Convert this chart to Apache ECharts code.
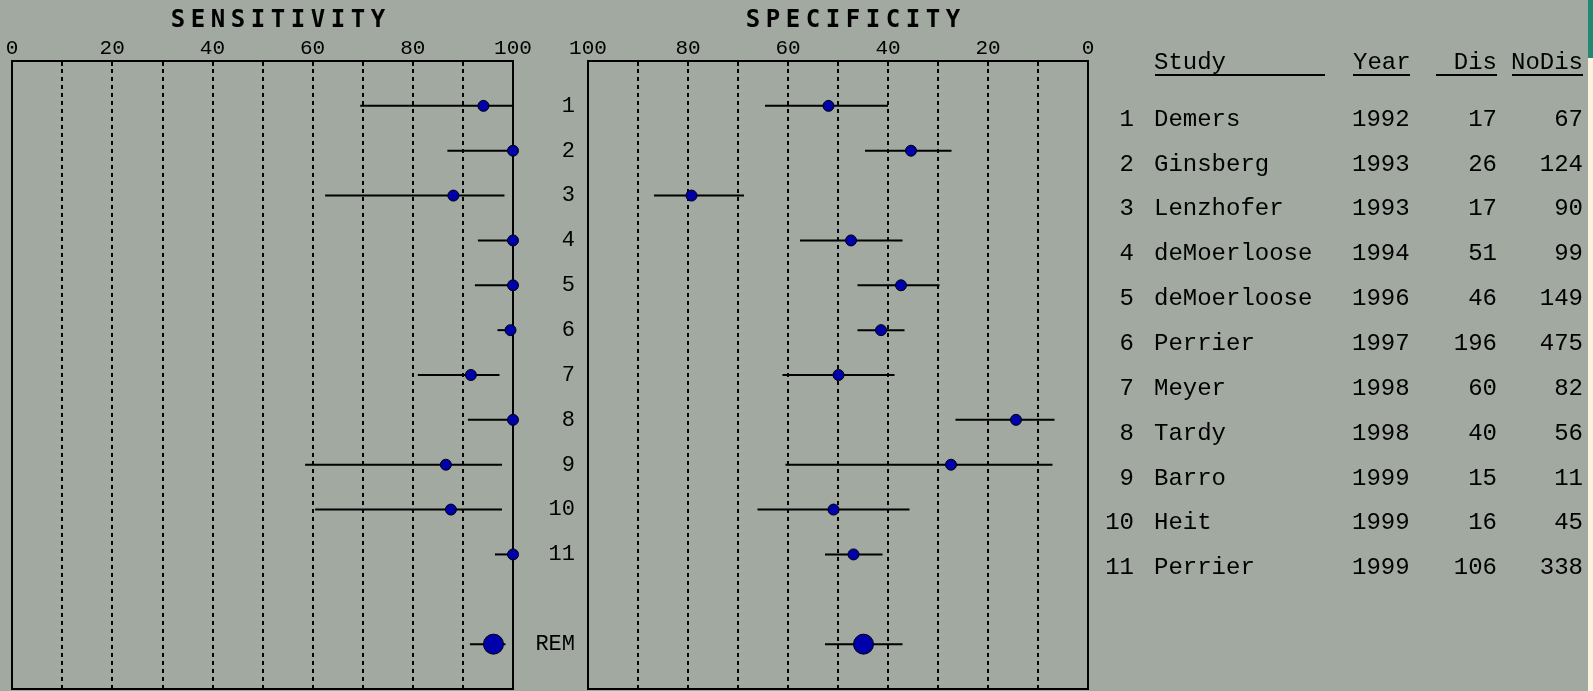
<!DOCTYPE html>
<html><head><meta charset="utf-8">
<script src="https://cdn.jsdelivr.net/npm/echarts@6/dist/echarts.min.js"></script>
<style>html,body{margin:0;padding:0;background:#a1a9a1;}#c{width:1593px;height:691px;}</style>
</head><body><div id="c"></div>
<script>
// ---------- data ----------
const titleSens = 'SENSITIVITY';
const titleSpec = 'SPECIFICITY';
const sensTickLabels = [0, 20, 40, 60, 80, 100];
const specTickLabels = [100, 80, 60, 40, 20, 0];
const rowLabels = ['1','2','3','4','5','6','7','8','9','10','11'];
const remLabel = 'REM';
const tableHeaders = ['Study', 'Year', 'Dis', 'NoDis'];
const studies = ['Demers','Ginsberg','Lenzhofer','deMoerloose','deMoerloose','Perrier','Meyer','Tardy','Barro','Heit','Perrier'];
const years = [1992,1993,1993,1994,1996,1997,1998,1998,1999,1999,1999];
const dis = [17,26,17,51,46,196,60,40,15,16,106];
const noDis = [67,124,90,99,149,475,82,56,11,45,338];

const sensPoint = [94.1,100,88.1,100,100,99.5,91.6,100,86.6,87.6,100];
const sensLow   = [69.5,86.9,62.5,93.0,92.4,96.9,81.0,91.0,58.5,60.5,96.4];
const sensHigh  = [100,100,98.3,100,100,100,97.3,100,97.8,97.8,100];
const sensREM   = [96.1, 91.4, 98.5]; // point, low, high

const specPoint = [51.9,35.4,79.3,47.4,37.4,41.4,49.9,14.4,27.4,50.9,46.9];
const specLow   = [64.6,44.6,86.8,57.6,46.1,46.1,61.1,26.5,60.5,66.1,52.6];
const specHigh  = [40.0,27.3,68.8,37.1,29.7,36.7,38.7,6.7,7.1,35.7,41.1];
const specREM   = [44.9, 52.6, 37.1];

// ---------- chart ----------
const FONT = '"Liberation Mono", "DejaVu Sans Mono", monospace';
const BG = '#a1a9a1';
const DOT = '#0000aa';
const rows = rowLabels.map((_, i) => i + 1);
const remRow = rows.length + 2;

const chart = echarts.init(document.getElementById('c'), null, {renderer: 'canvas'});

function richTitle(s) { return s.split('').map(ch => '{c|' + ch + '}').join(''); }

function xAxisCfg(gridIndex, inverse, ticks) {
  return {
    type: 'value', gridIndex, position: 'top', min: 0, max: 100, interval: 10, inverse,
    axisLine: {show: true, lineStyle: {color: '#000', width: 2}},
    axisTick: {show: true, inside: true, length: 5, lineStyle: {color: '#000', width: 2}},
    axisLabel: {show: true, margin: 2, color: '#000', fontFamily: FONT, fontSize: 21,
      formatter: v => ticks.includes(v) ? String(v) : ''},
    splitLine: {show: true, lineStyle: {color: '#000', width: 2, type: [4, 4]}}
  };
}
function yAxisCfg(gridIndex, showLabels) {
  return {
    type: 'value', gridIndex, min: 0, max: 14, interval: 1, inverse: true,
    axisLine: {show: false}, axisTick: {show: false}, splitLine: {show: false},
    axisLabel: {show: showLabels, margin: 13, color: '#000', fontFamily: FONT, fontSize: 22,
      formatter: v => (v >= 1 && v <= rows.length) ? rowLabels[v - 1] : (v === remRow ? remLabel : '')}
  };
}
function ciSeries(idx, lows, highs, rem) {
  const data = lows.map((lo, i) => [lo, highs[i], rows[i]]).concat([[rem[1], rem[2], remRow]]);
  return {
    type: 'custom', xAxisIndex: idx, yAxisIndex: idx, data, encode: {x: [0, 1], y: 2}, z: 3, silent: true,
    renderItem(params, api) {
      const p1 = api.coord([api.value(0), api.value(2)]);
      const p2 = api.coord([api.value(1), api.value(2)]);
      return {type: 'line', shape: {x1: p1[0], y1: p1[1], x2: p2[0], y2: p2[1]},
        style: {stroke: '#000', lineWidth: 2}};
    }
  };
}
function dotSeries(idx, pts, rem) {
  const data = pts.map((v, i) => [v, rows[i]]);
  data.push({value: [rem[0], remRow], symbolSize: 20});
  return {
    type: 'scatter', xAxisIndex: idx, yAxisIndex: idx, data, symbol: 'circle', symbolSize: 11, z: 4, silent: true,
    itemStyle: {color: DOT, borderColor: '#000', borderWidth: 1, opacity: 1}
  };
}

const titleRich = {c: {width: 20, align: 'center', fontFamily: '"DejaVu Sans Mono", monospace', fontWeight: 'bold', fontSize: 24, color: '#000'}};

chart.setOption({
  backgroundColor: BG,
  animation: false,
  title: [
    {text: richTitle(titleSens), left: 163, top: 4, textStyle: {rich: titleRich}},
    {text: richTitle(titleSpec), left: 738, top: 4, textStyle: {rich: titleRich}}
  ],
  grid: [
    {left: 12, top: 61, width: 501, height: 628, show: true, borderColor: '#000', borderWidth: 2, backgroundColor: 'transparent'},
    {left: 588, top: 61, width: 500, height: 628, show: true, borderColor: '#000', borderWidth: 2, backgroundColor: 'transparent'}
  ],
  xAxis: [xAxisCfg(0, false, sensTickLabels), xAxisCfg(1, true, specTickLabels)],
  yAxis: [yAxisCfg(0, false), yAxisCfg(1, true)],
  series: [
    ciSeries(0, sensLow, sensHigh, sensREM),
    dotSeries(0, sensPoint, sensREM),
    ciSeries(1, specLow, specHigh, specREM),
    dotSeries(1, specPoint, specREM)
  ]
});

// ---------- table (positioned on the chart's row scale) ----------
const TFONT = '24px "Liberation Mono", "DejaVu Sans Mono", monospace';
const ROW_SHIFT = 13.5;
const els = [];
function txt(s, x, y, align) {
  els.push({type: 'text', x, y, silent: true,
    style: {text: s, font: TFONT, fill: '#000', align, verticalAlign: 'middle'}});
}
function rule(x1, x2, y) {
  els.push({type: 'line', silent: true, shape: {x1, y1: y, x2, y2: y}, style: {stroke: '#000', lineWidth: 2}});
}
const hdrY = 63;
txt(tableHeaders[0], 1154, hdrY, 'left'); rule(1155, 1325, 75);
txt(tableHeaders[1], 1353, hdrY, 'left'); rule(1353, 1410, 75);
txt(tableHeaders[2], 1497, hdrY, 'right'); rule(1436, 1497, 75);
txt(tableHeaders[3], 1583, hdrY, 'right'); rule(1512, 1583, 75);
rows.forEach((r, i) => {
  const y = chart.convertToPixel({yAxisIndex: 1}, r) + ROW_SHIFT;
  txt(rowLabels[i], 1134, y, 'right');
  txt(studies[i], 1154, y, 'left');
  txt(String(years[i]), 1352, y, 'left');
  txt(String(dis[i]), 1497, y, 'right');
  txt(String(noDis[i]), 1583, y, 'right');
});
// slide edge strip at far right
els.push({type: 'rect', silent: true, shape: {x: 1588, y: 0, width: 5, height: 58}, style: {fill: '#1f8a72'}});
els.push({type: 'rect', silent: true, shape: {x: 1588, y: 58, width: 5, height: 633}, style: {fill: '#fff3de'}});
chart.setOption({graphic: {elements: els}});
</script>
</body></html>
